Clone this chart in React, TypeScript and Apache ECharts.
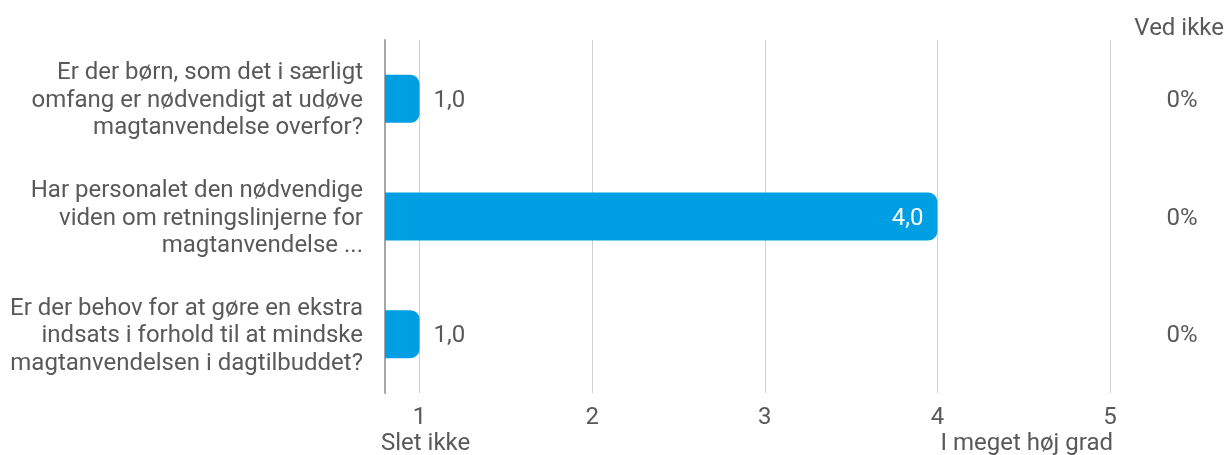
import React, { useEffect, useRef } from "react";
import * as echarts from "echarts";

const categories = [
  "Er der børn, som det i særligt\nomfang er nødvendigt at udøve\nmagtanvendelse overfor?",
  "Har personalet den nødvendige\nviden om retningslinjerne for\nmagtanvendelse ...",
  "Er der behov for at gøre en ekstra\nindsats i forhold til at mindske\nmagtanvendelsen i dagtilbuddet?",
];
const values = [1.0, 4.0, 1.0];
const dontKnow = ["0%", "0%", "0%"];
const tickValues = [1, 2, 3, 4, 5];
const scaleMin = 0.8;
const scaleMax = 5;
const lowLabel = "Slet ikke";
const highLabel = "I meget høj grad";
const dontKnowHeader = "Ved ikke";

const FONT = "Roboto";
const TEXT = "#595959";
const BLUE = "#009fe3";
const FS = 24;

export default function App() {
  const ref = useRef<HTMLDivElement>(null);
  useEffect(() => {
    if (!ref.current) return;
    const chart = echarts.init(ref.current, undefined, { renderer: "svg" });
    const fmt = (v: number) => v.toFixed(1).replace(".", ",");
    chart.setOption({
      animation: false,
      textStyle: { fontFamily: FONT },
      grid: { left: 385, right: 119, top: 40, bottom: 62, containLabel: false },
      xAxis: {
        type: "value",
        min: scaleMin,
        max: scaleMax,
        axisLine: { show: false },
        axisTick: { show: false },
        splitLine: { show: false },
        axisLabel: {
          customValues: tickValues,
          fontFamily: FONT,
          fontSize: FS,
          color: TEXT,
          margin: 11,
          formatter: (v: number) => String(v),
        },
      },
      yAxis: [
        {
          type: "category",
          data: categories,
          inverse: true,
          axisLine: { show: true, lineStyle: { color: "#a6a6a6", width: 2 } },
          axisTick: { show: false },
          axisLabel: {
            fontFamily: FONT,
            fontSize: FS,
            color: TEXT,
            margin: 22,
            lineHeight: 27.5,
            align: "right",
          },
        },
        {
          type: "category",
          data: categories,
          inverse: true,
          position: "right",
          axisLine: { show: false },
          axisTick: { show: false },
          axisLabel: {
            fontFamily: FONT,
            fontSize: FS,
            color: TEXT,
            margin: 72,
            align: "center",
            formatter: (_v: string, i: number) => dontKnow[i],
          },
        },
      ],
      series: [
        {
          type: "bar",
          yAxisIndex: 0,
          barWidth: 48,
          z: 3,
          data: values.map((v) => ({
            value: v,
            label:
              v >= 2
                ? { position: "insideRight", color: "#ffffff", distance: 14 }
                : { position: "right", color: TEXT, distance: 14 },
          })),
          itemStyle: { color: BLUE, borderRadius: [0, 9, 9, 0] },
          label: {
            show: true,
            fontFamily: FONT,
            fontSize: FS,
            formatter: (p: any) => fmt(p.value),
          },
          markLine: {
            silent: true,
            z: 1,
            symbol: ["none", "none"],
            label: { show: false },
            emphasis: { disabled: true },
            lineStyle: { color: "#d0d0d0", type: "solid", width: 1 },
            data: tickValues.map((t) => ({ xAxis: t })),
          },
        },
      ],
      graphic: [
        {
          type: "text",
          left: 381,
          top: 430,
          style: { text: lowLabel, fontFamily: FONT, fontSize: FS, fill: TEXT },
        },
        {
          type: "text",
          right: 116,
          top: 430,
          style: { text: highLabel, fontFamily: FONT, fontSize: FS, fill: TEXT },
        },
        {
          type: "text",
          right: 5,
          top: 15,
          style: { text: dontKnowHeader, fontFamily: FONT, fontSize: FS, fill: TEXT },
        },
      ],
    });
    return () => chart.dispose();
  }, []);
  return (
    <div
      ref={ref}
      style={{ position: "fixed", left: 0, top: 0, width: 1229, height: 455 }}
    />
  );
}
